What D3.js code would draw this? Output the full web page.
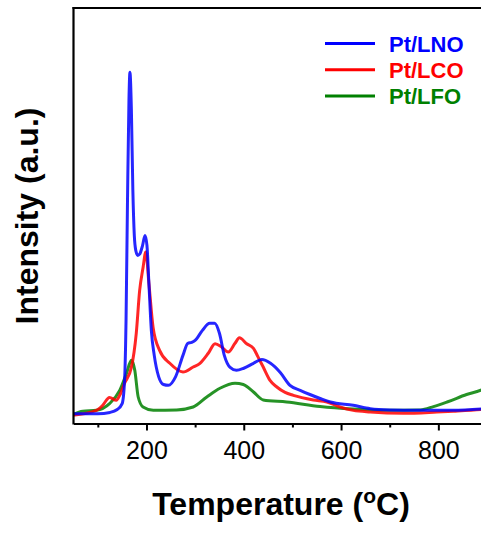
<!DOCTYPE html>
<html>
<head>
<meta charset="utf-8">
<script src="https://cdn.jsdelivr.net/npm/d3@7/dist/d3.min.js"></script>
<style>
  html, body { margin: 0; padding: 0; background: #fff; }
  svg { display: block; }
  text { font-family: "Liberation Sans", Arial, sans-serif; }
</style>
</head>
<body>
<svg id="chart" width="481" height="533"></svg>
<script>
// ---- Data (temperature in °C, intensity in arbitrary units 0–100) ----
const seriesNames = ["Pt/LNO", "Pt/LCO", "Pt/LFO"];
const seriesColors = ["#0000ff", "#ff0000", "#008000"];

const lnoTemp = [50,100,125,140,150,155,158,161,164,166,169,172,175,178,182,186,192,197,201,205,210,216,225,235,245,260,275,285,293,300,315,330,340,350,360,372,385,400,420,437,455,475,495,516,536,557,578,625,660,700,760,830,900];
const lnoVal  = [2.6,2.6,2.9,3.6,5.0,10.6,25,53.8,77.9,84.6,75.5,56.3,45.4,41.8,40.6,40.9,43,45.4,43,33.9,22.6,16.6,11.5,9.6,9.4,11.5,16.6,19.5,19.7,20.2,22.6,24.3,24.3,21.9,16.6,13.7,13,13.5,14.7,15.6,14.7,12.5,9.4,8.2,7.2,6.25,5.4,4.6,3.8,3.5,3.4,3.4,3.8];

const lcoTemp = [48,97,110,124,138,145,155,169,179,186,193,198.6,205,213.6,227,248,275,296,310,327,341,354.5,368,382,391,406,420,429,440,454,468,485,502,543,571,598,625,660,728,797,831,889,900];
const lcoVal  = [2.2,3.4,4.6,6.5,5.8,7.0,9.9,13.7,21.9,32.2,37.7,41.4,33.9,23.3,17.8,14.7,12.6,13.8,14.7,17.1,19.4,18.6,17.4,19.5,20.8,19.4,18.3,16.3,13.8,10.6,9.0,7.7,7.0,5.9,5.4,4.2,3.4,3.0,2.7,3.0,3.2,3.6,3.7];

const lfoTemp = [48,69,97,124,145,159,169,176,183,193,214,262,296,324,351,382,399,420,440,488,557,625,694,763,790,818,858,889,900];
const lfoVal  = [2.3,3.2,3.4,5.0,8.2,12.3,15.4,13.0,6.6,4.2,3.4,3.5,4.2,6.6,8.7,9.9,9.6,7.8,5.9,5.4,4.3,3.7,3.4,3.5,4.3,5.4,7.2,8.3,8.9];

const xMajorTicks = [200, 400, 600, 800];
const xMinorTicks = [100, 300, 500, 700];
const xDomain = [50, 900];
const yDomain = [0, 100];

// ---- Layout ----
const svg = d3.select("#chart");
const pLeft = 73.5, pTop = 8, pBottom = 423.5, pRight = 487;

const x = d3.scaleLinear().domain(xDomain).range([pLeft, pRight]);
const y = d3.scaleLinear().domain(yDomain).range([424.5, pTop]);

const series = [
  {name: seriesNames[0], color: seriesColors[0], t: lnoTemp, v: lnoVal},
  {name: seriesNames[1], color: seriesColors[1], t: lcoTemp, v: lcoVal},
  {name: seriesNames[2], color: seriesColors[2], t: lfoTemp, v: lfoVal}
];

svg.append("defs").append("clipPath").attr("id", "clip")
  .append("rect").attr("x", pLeft).attr("y", pTop).attr("width", pRight - pLeft).attr("height", pBottom - pTop);

const line = d3.line()
  .x(d => x(d[0]))
  .y(d => y(d[1]))
  .curve(d3.curveMonotoneX);

const g = svg.append("g").attr("clip-path", "url(#clip)");
[2, 1, 0].forEach(i => {
  const s = series[i];
  g.append("path")
    .datum(s.t.map((t, k) => [t, s.v[k]]))
    .attr("fill", "none")
    .attr("stroke", s.color)
    .attr("stroke-opacity", 0.85)
    .attr("stroke-width", 3)
    .attr("stroke-linejoin", "round")
    .attr("d", line);
});

// ---- Frame ----
svg.append("line").attr("x1", pLeft).attr("x2", pLeft).attr("y1", pTop - 1).attr("y2", pBottom + 1)
  .attr("stroke", "#000").attr("stroke-width", 2.2);
svg.append("line").attr("x1", pLeft - 1).attr("x2", 481).attr("y1", pTop).attr("y2", pTop)
  .attr("stroke", "#000").attr("stroke-width", 2.2);

// Bottom axis
const xAxis = d3.axisBottom(x).tickValues(xMajorTicks).tickSize(7).tickSizeOuter(0).tickPadding(11);
const axG = svg.append("g").attr("transform", `translate(0,${pBottom})`).call(xAxis);
axG.select(".domain").attr("stroke", "#000").attr("stroke-width", 2.2);
axG.selectAll(".tick line").attr("stroke", "#000").attr("stroke-width", 2);
axG.selectAll(".tick text").attr("font-size", 25).attr("fill", "#000")
  .attr("font-family", "'Liberation Sans', Arial, sans-serif");

const minorAxis = d3.axisBottom(x).tickValues(xMinorTicks).tickSize(4).tickFormat("").tickSizeOuter(0);
const minG = svg.append("g").attr("transform", `translate(0,${pBottom})`).call(minorAxis);
minG.select(".domain").remove();
minG.selectAll(".tick line").attr("stroke", "#000").attr("stroke-width", 2);

// ---- Axis titles ----
const xt = svg.append("text")
  .attr("x", 281).attr("y", 515)
  .attr("text-anchor", "middle")
  .attr("font-size", 32).attr("font-weight", "bold").attr("fill", "#000");
xt.append("tspan").text("Temperature (");
xt.append("tspan").attr("font-size", 21).attr("dy", -12).text("o");
xt.append("tspan").attr("dy", 12).text("C)");

svg.append("text")
  .attr("transform", "translate(38,216) rotate(-90)")
  .attr("text-anchor", "middle")
  .attr("font-size", 32).attr("font-weight", "bold").attr("fill", "#000")
  .text("Intensity (a.u.)");

// ---- Legend ----
const legend = svg.append("g");
series.forEach((s, i) => {
  const ly = 43.5 + i * 26.2;
  legend.append("line")
    .attr("x1", 325).attr("x2", 375).attr("y1", ly).attr("y2", ly)
    .attr("stroke", s.color).attr("stroke-width", 3);
  legend.append("text")
    .attr("x", 389).attr("y", ly + 8)
    .attr("font-size", 22).attr("font-weight", "bold").attr("fill", s.color)
    .text(s.name);
});
</script>
</body>
</html>
